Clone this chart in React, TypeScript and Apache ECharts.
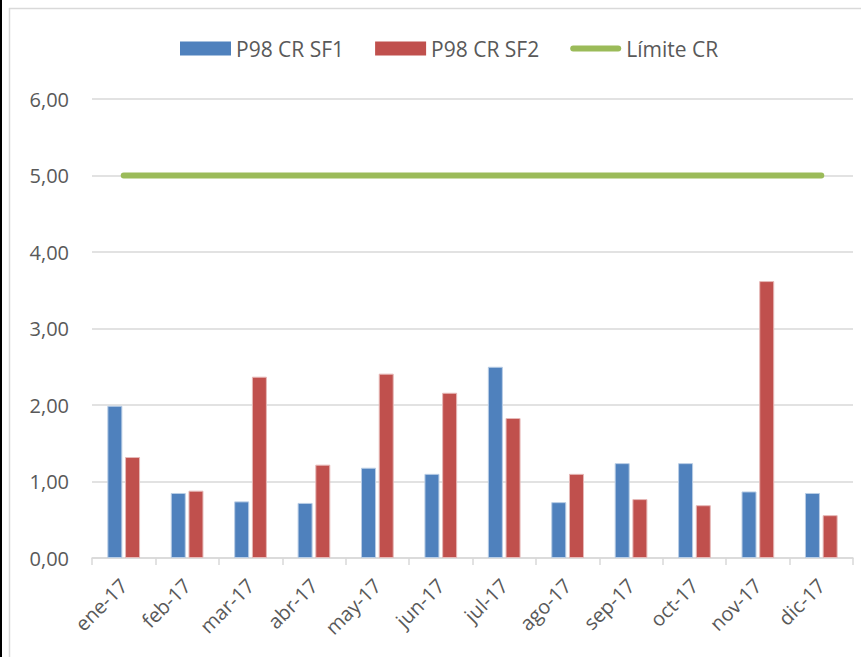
import React, { useEffect, useRef } from "react";
import * as echarts from "echarts";

const categories = ["ene-17", "feb-17", "mar-17", "abr-17", "may-17", "jun-17", "jul-17", "ago-17", "sep-17", "oct-17", "nov-17", "dic-17"];
const sf1 = [1.99, 0.85, 0.74, 0.72, 1.18, 1.10, 2.50, 0.73, 1.24, 1.24, 0.87, 0.85];
const sf2 = [1.32, 0.88, 2.37, 1.22, 2.41, 2.16, 1.83, 1.10, 0.77, 0.69, 3.62, 0.56];
const limite = [5, 5, 5, 5, 5, 5, 5, 5, 5, 5, 5, 5];
const yTicks = [0, 1, 2, 3, 4, 5, 6];

const FONT = "'Open Sans', sans-serif";
const LINE_ICON = "path://M3,0 L48,0 A3,3 0 0 1 48,6 L3,6 A3,3 0 0 1 3,0 Z";

export default function App() {
  const ref = useRef<HTMLDivElement>(null);
  useEffect(() => {
    if (!ref.current) return;
    const chart = echarts.init(ref.current, undefined, { renderer: "svg" });
    chart.setOption({
      animation: false,
      backgroundColor: "#ffffff",
      textStyle: { fontFamily: FONT },
      graphic: [
        { type: "rect", shape: { x: 0, y: 0, width: 2, height: 657 }, style: { fill: "#000000" } },
        { type: "line", shape: { x1: 9, y1: 8.5, x2: 861, y2: 8.5 }, style: { stroke: "#d9d9d9", lineWidth: 1.5 } },
        { type: "line", shape: { x1: 9.5, y1: 8, x2: 9.5, y2: 657 }, style: { stroke: "#d9d9d9", lineWidth: 1.5 } },
      ],
      legend: {
        top: 33,
        left: 175,
        itemWidth: 51,
        itemHeight: 14,
        itemGap: 31,
        symbolKeepAspect: true,
        textStyle: { fontSize: 21, color: "#595959", fontFamily: FONT },
        data: [
          { name: "P98 CR SF1", icon: "rect", itemStyle: { color: "#4f81bd", borderWidth: 0 } },
          { name: "P98 CR SF2", icon: "rect", itemStyle: { color: "#c0504d", borderWidth: 0 } },
          { name: "Límite CR", icon: LINE_ICON, itemStyle: { color: "#9bbb59", borderWidth: 0 } },
        ],
      },
      grid: { left: 92, right: 8, top: 99, bottom: 99, containLabel: false },
      xAxis: {
        type: "category",
        data: categories,
        boundaryGap: true,
        axisLine: { lineStyle: { color: "#d9d9d9", width: 1.5 } },
        axisTick: { show: true, length: 7, lineStyle: { color: "#d9d9d9", width: 1.5 } },
        axisLabel: { rotate: 45, fontSize: 20, color: "#595959", margin: 24, fontFamily: FONT, interval: 0 },
      },
      yAxis: {
        type: "value",
        min: 0,
        max: 6,
        interval: 1,
        axisLine: { show: false },
        axisTick: { show: false },
        splitLine: { lineStyle: { color: "#d9d9d9", width: 1.5 } },
        axisLabel: {
          fontSize: 20,
          color: "#595959",
          margin: 23,
          fontFamily: FONT,
          formatter: (v: number) => (yTicks.includes(v) ? v.toFixed(2).replace(".", ",") : ""),
        },
      },
      series: [
        {
          name: "P98 CR SF1",
          type: "bar",
          data: sf1,
          barWidth: 15,
          barGap: "18%",
          itemStyle: { color: "#4f81bd", borderColor: "#b9cde5", borderWidth: 1 },
        },
        {
          name: "P98 CR SF2",
          type: "bar",
          data: sf2,
          barWidth: 15,
          barGap: "18%",
          itemStyle: { color: "#c0504d", borderColor: "#e6b9b8", borderWidth: 1 },
        },
        {
          name: "Límite CR",
          type: "line",
          data: limite,
          symbol: "none",
          z: 5,
          lineStyle: { color: "#9bbb59", width: 6, cap: "round" },
          itemStyle: { color: "#9bbb59" },
        },
      ],
    });
    return () => chart.dispose();
  }, []);
  return (
    <div
      ref={ref}
      style={{ position: "fixed", left: 0, top: 0, width: 861, height: 657 }}
    />
  );
}
